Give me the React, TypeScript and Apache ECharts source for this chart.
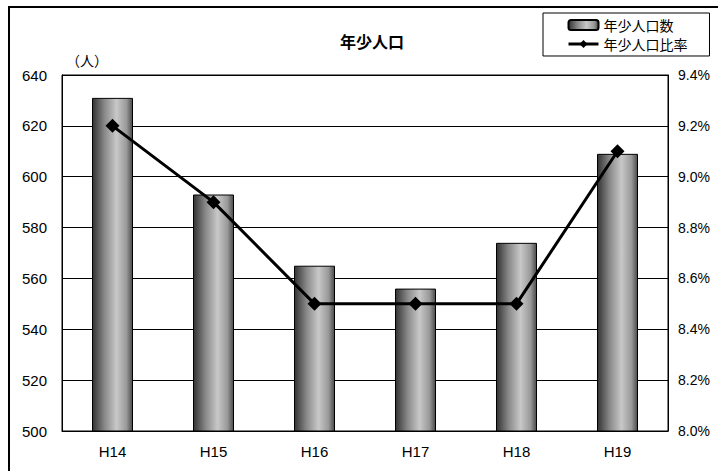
import React, { useEffect, useRef } from "react";
import * as echarts from "echarts";

// 年度ごとの年少人口と比率
const years = ["H14", "H15", "H16", "H17", "H18", "H19"];
const youthCount = [631, 593, 565, 556, 574, 609];
const youthRatio = [9.2, 8.9, 8.5, 8.5, 8.5, 9.1];

const leftTicks = { min: 500, max: 640, interval: 20 };
const rightTicks = { min: 8.0, max: 9.4, interval: 0.2 };

const NUM_FONT = '"Liberation Sans", Arial, sans-serif';
const JP_FONT = '"Noto Sans CJK JP", sans-serif';

export default function App() {
  const ref = useRef<HTMLDivElement>(null);

  useEffect(() => {
    document.body.style.margin = "0";
    if (!ref.current) return;
    const chart = echarts.init(ref.current, undefined, { renderer: "svg" });

    const barFill = new echarts.graphic.LinearGradient(0, 0, 1, 0, [
      { offset: 0, color: "#333333" },
      { offset: 0.3, color: "#888888" },
      { offset: 0.6, color: "#c8c8c8" },
      { offset: 0.85, color: "#999999" },
      { offset: 1, color: "#4a4a4a" },
    ]);

    chart.setOption({
      animation: false,
      backgroundColor: "#fff",
      title: {
        text: "年少人口",
        left: 335,
        top: 28,
        textStyle: { fontFamily: JP_FONT, fontSize: 16, fontWeight: "bold", color: "#000" },
      },
      legend: {
        orient: "vertical",
        left: 543,
        top: 13,
        padding: [5, 22, 5, 24],
        itemGap: 5,
        itemWidth: 30,
        itemHeight: 10,
        borderColor: "#000",
        borderWidth: 1,
        backgroundColor: "#fff",
        lineStyle: { width: 3 },
        textStyle: { fontFamily: JP_FONT, fontSize: 14, color: "#000" },
        data: ["年少人口数", "年少人口比率"],
      },
      grid: {
        left: 62,
        right: 50,
        top: 75,
        bottom: 40,
        show: true,
        borderColor: "#000",
        borderWidth: 1,
      },
      xAxis: {
        type: "category",
        data: years,
        axisLine: { lineStyle: { color: "#000", width: 1 } },
        axisTick: { inside: true, length: 5, lineStyle: { color: "#000" } },
        axisLabel: { color: "#000", fontFamily: NUM_FONT, fontSize: 15, margin: 13 },
      },
      yAxis: [
        {
          type: "value",
          ...leftTicks,
          axisLine: { show: true, lineStyle: { color: "#000" } },
          axisTick: { show: false },
          splitLine: { lineStyle: { color: "#000", width: 1 } },
          axisLabel: { color: "#000", fontFamily: NUM_FONT, fontSize: 15, margin: 15 },
        },
        {
          type: "value",
          ...rightTicks,
          position: "right",
          axisLine: { show: true, lineStyle: { color: "#000" } },
          axisTick: { show: false },
          splitLine: { show: false },
          axisLabel: {
            color: "#000",
            fontFamily: NUM_FONT,
            fontSize: 14,
            margin: 10,
            formatter: (v: number) => v.toFixed(1) + "%",
          },
        },
      ],
      series: [
        {
          name: "年少人口数",
          type: "bar",
          data: youthCount,
          barWidth: 41,
          itemStyle: { color: barFill, borderColor: "#000", borderWidth: 1 },
        },
        {
          name: "年少人口比率",
          type: "line",
          yAxisIndex: 1,
          data: youthRatio,
          symbol: "diamond",
          symbolSize: 14,
          lineStyle: { color: "#000", width: 3 },
          itemStyle: { color: "#000" },
        },
      ],
      graphic: [
        {
          type: "rect",
          shape: { x: 9, y: 7, width: 760, height: 520 },
          style: { fill: "none", stroke: "#000", lineWidth: 2 },
          z: 100,
          silent: true,
        },
        {
          type: "text",
          left: 66,
          top: 53,
          style: { text: "（人）", font: `14px ${JP_FONT}`, fill: "#000" },
        },
      ],
    });

    return () => chart.dispose();
  }, []);

  return <div ref={ref} style={{ width: 718, height: 471 }} />;
}
